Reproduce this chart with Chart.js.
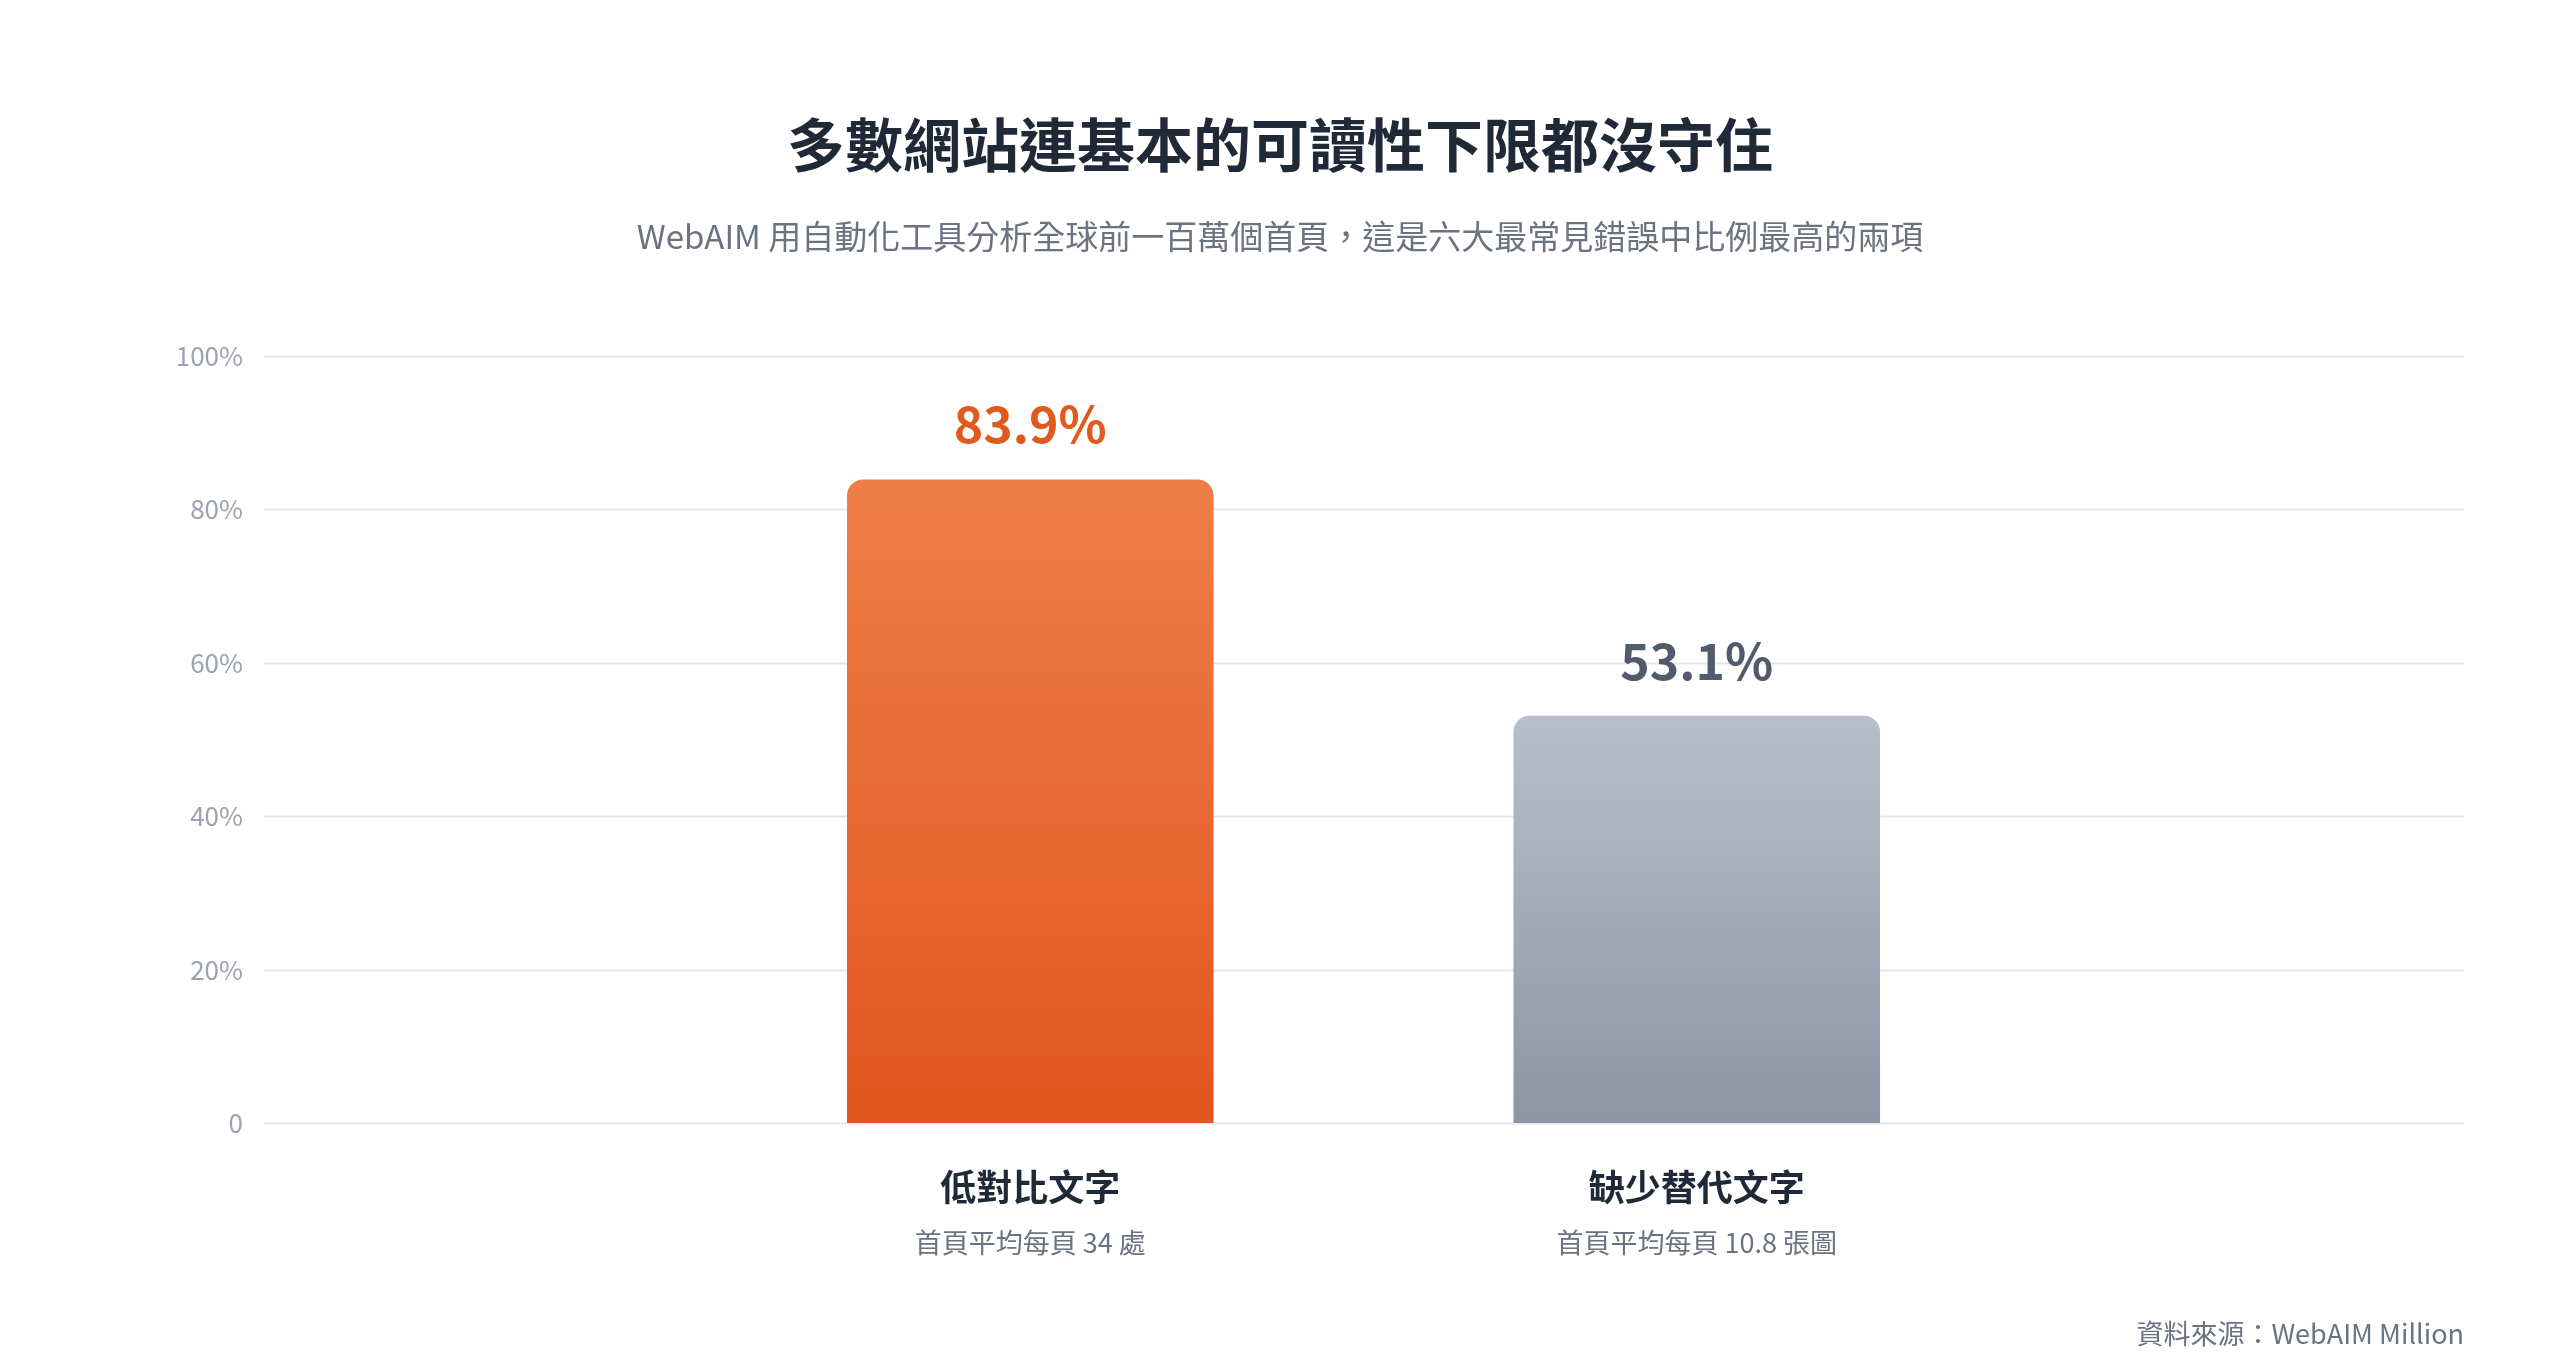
<!DOCTYPE html>
<html>
<head>
<meta charset="utf-8">
<script src="https://cdn.jsdelivr.net/npm/chart.js@4"></script>
<style>
  html, body { margin: 0; padding: 0; background: #fff; }
  #wrap { width: 2560px; height: 1356px; }
</style>
</head>
<body>
<div id="wrap"><canvas id="chart"></canvas></div>
<script>
const categories = ["低對比文字", "缺少替代文字"];
const subLabels = ["首頁平均每頁 34 處", "首頁平均每頁 10.8 張圖"];
const values = [83.9, 53.1];
const yTicks = [0, 20, 40, 60, 80, 100];
const labelColors = ["#e05a1e", "#525b6b"];
const gradStops = [["#ee7e48", "#e2561f"], ["#b8bfca", "#8c96a3"]];

const FONT = "'Noto Sans CJK TC', 'Noto Sans', sans-serif";
const GRID_LEFT = 264, GRID_RIGHT = 2464;

const overlay = {
  id: "overlay",
  beforeDatasetsDraw(chart) {
    const ctx = chart.ctx, y = chart.scales.y;
    ctx.save();
    ctx.strokeStyle = "#e5e7eb";
    ctx.lineWidth = 2;
    ctx.fillStyle = "#9ca3af";
    ctx.font = "26px " + FONT;
    ctx.textAlign = "right";
    ctx.textBaseline = "middle";
    yTicks.forEach(v => {
      const py = Math.round(y.getPixelForValue(v)) + 0.5;
      ctx.beginPath();
      ctx.moveTo(GRID_LEFT, py);
      ctx.lineTo(GRID_RIGHT, py);
      ctx.stroke();
      ctx.fillText(v === 0 ? "0" : v + "%", 243, py);
    });
    ctx.restore();
  },
  afterDraw(chart) {
    const ctx = chart.ctx, x = chart.scales.x, y = chart.scales.y;
    const W = chart.width;
    ctx.save();
    ctx.textAlign = "center";
    ctx.textBaseline = "middle";
    ctx.fillStyle = "#1f2937";
    ctx.font = "bold 58px " + FONT;
    ctx.fillText("多數網站連基本的可讀性下限都沒守住", W / 2, 145);
    ctx.fillStyle = "#6b7280";
    ctx.font = "33px " + FONT;
    ctx.fillText("WebAIM 用自動化工具分析全球前一百萬個首頁，這是六大最常見錯誤中比例最高的兩項", W / 2, 236);

    values.forEach((v, i) => {
      const px = x.getPixelForValue(i);
      ctx.fillStyle = labelColors[i];
      ctx.font = "bold 50px " + FONT;
      ctx.fillText(v.toFixed(1) + "%", px, y.getPixelForValue(v) - 55);
      ctx.fillStyle = "#1f2937";
      ctx.font = "bold 36px " + FONT;
      ctx.fillText(categories[i], px, 1187);
      ctx.fillStyle = "#6b7280";
      ctx.font = "27px " + FONT;
      ctx.fillText(subLabels[i], px, 1243);
    });

    ctx.textAlign = "right";
    ctx.fillStyle = "#6b7280";
    ctx.font = "27px " + FONT;
    ctx.fillText("資料來源：WebAIM Million", GRID_RIGHT, 1334);
    ctx.restore();
  }
};

new Chart(document.getElementById("chart"), {
  type: "bar",
  data: {
    labels: categories,
    datasets: [{
      data: values,
      backgroundColor: (c) => {
        const area = c.chart.chartArea;
        if (!area) return gradStops[c.dataIndex % 2][0];
        const stops = gradStops[c.dataIndex];
        const yPix = c.chart.scales.y.getPixelForValue(values[c.dataIndex]);
        const g = c.chart.ctx.createLinearGradient(0, yPix, 0, area.bottom);
        g.addColorStop(0, stops[0]);
        g.addColorStop(1, stops[1]);
        return g;
      },
      borderRadius: { topLeft: 16, topRight: 16, bottomLeft: 0, bottomRight: 0 },
      borderSkipped: "bottom",
      categoryPercentage: 0.55,
      barPercentage: 1.0
    }]
  },
  options: {
    responsive: true,
    maintainAspectRatio: false,
    animation: false,
    layout: { padding: { left: 697, right: 530, top: 356, bottom: 233 } },
    plugins: { legend: { display: false }, tooltip: { enabled: false } },
    scales: {
      x: { display: false },
      y: { display: false, min: 0, max: 100 }
    }
  },
  plugins: [overlay]
});
</script>
</body>
</html>
